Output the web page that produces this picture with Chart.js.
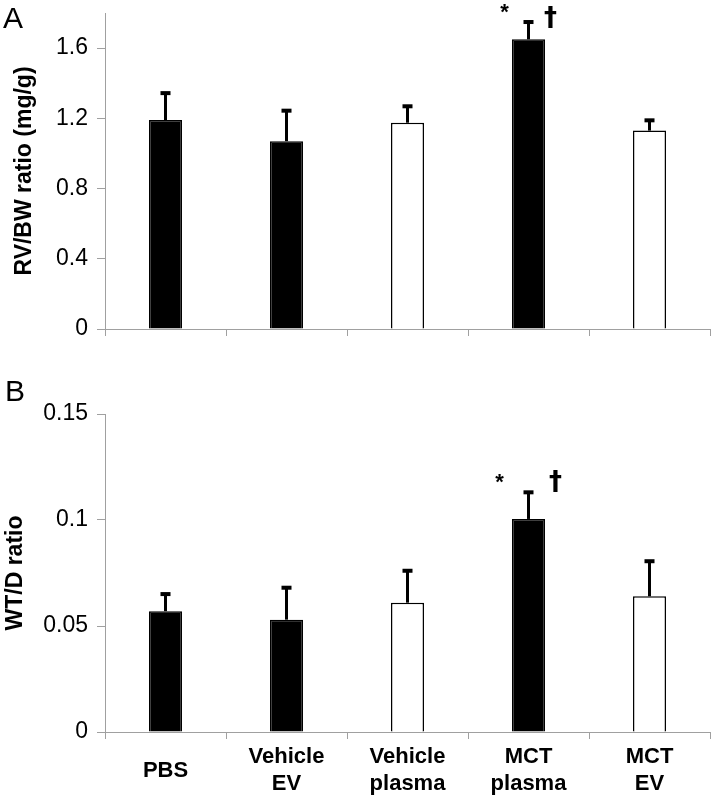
<!DOCTYPE html>
<html>
<head>
<meta charset="utf-8">
<script src="https://cdn.jsdelivr.net/npm/chart.js@4.4.1/dist/chart.umd.min.js"></script>
<style>
  body { margin: 0; background: #fff; }
  .panel { position: absolute; left: 0; width: 714px; }
  .letter { position: absolute; font: 30px 'Liberation Sans', Arial, sans-serif; line-height: 30px; color: #000; }
</style>
</head>
<body>
<div class="panel" style="top:0;height:350px"><canvas id="chartA"></canvas></div>
<div class="panel" style="top:350px;height:448px"><canvas id="chartB"></canvas></div>
<div class="letter" style="left:3px;top:3px">A</div>
<div class="letter" style="left:5px;top:376px">B</div>
<script>
const groups = [['PBS'], ['Vehicle', 'EV'], ['Vehicle', 'plasma'], ['MCT', 'plasma'], ['MCT', 'EV']];

// panel A: RV/BW ratio
const rvMean = [1.19, 1.07, 1.175, 1.65, 1.13];
const rvErr = [0.165, 0.185, 0.105, 0.11, 0.07];
const rvTicks = [0, 0.4, 0.8, 1.2, 1.6];

// panel B: WT/D ratio
const wtMean = [0.057, 0.053, 0.061, 0.1005, 0.064];
const wtErr = [0.009, 0.016, 0.016, 0.0135, 0.0175];
const wtTicks = [0, 0.05, 0.1, 0.15];

// which group gets the * and † marks
const markedGroup = 3;

const FONT = "'Liberation Sans', Arial, sans-serif";
const AXIS_GREY = '#a0a0a0';

// upper error bars drawn from the y scale
const errorBars = {
  id: 'errorBars',
  afterDatasetsDraw(chart, args, opts) {
    const { ctx } = chart;
    const y = chart.scales.y;
    const meta = chart.getDatasetMeta(0);
    const means = chart.data.datasets[0].data;
    ctx.save();
    ctx.fillStyle = '#000';
    ctx.strokeStyle = '#000';
    meta.data.forEach((bar, i) => {
      const top = y.getPixelForValue(means[i] + opts.errors[i]);
      ctx.lineWidth = 3;
      ctx.beginPath();
      ctx.moveTo(bar.x, bar.y);
      ctx.lineTo(bar.x, top + 2);
      ctx.stroke();
      ctx.fillRect(bar.x - 5, top, 10, 4);
      if (i === markedGroup) {
        ctx.textAlign = 'center';
        ctx.textBaseline = 'alphabetic';
        ctx.font = 'bold 22px ' + FONT;
        ctx.fillText('*', bar.x + opts.starDx, top - 1);
        ctx.font = "bold 26px 'DejaVu Sans', sans-serif";
        ctx.fillText('†', bar.x + opts.daggerDx, top + opts.daggerDy);
      }
    });
    ctx.restore();
  }
};

function makeChart(id, means, errs, ticks, max, title, titlePad, showLabels, padTop, xHeight, marks) {
  return new Chart(document.getElementById(id), {
    type: 'bar',
    data: {
      labels: groups,
      datasets: [{
        data: means,
        backgroundColor: ['#000', '#000', '#fff', '#000', '#fff'],
        borderColor: '#000',
        borderWidth: 1.5,
        categoryPercentage: 1,
        barPercentage: 0.273
      }]
    },
    options: {
      responsive: true,
      maintainAspectRatio: false,
      animation: false,
      events: [],
      layout: { padding: { top: padTop, right: 4, left: 0, bottom: 0 } },
      scales: {
        x: {
          grid: { offset: true, drawOnChartArea: false, color: AXIS_GREY, tickLength: 7 },
          border: { color: AXIS_GREY },
          ticks: {
            display: showLabels,
            color: '#000',
            maxRotation: 0,
            autoSkip: false,
            crossAlign: 'center',
            padding: 18,
            font: { family: FONT, size: 22, weight: 'bold', lineHeight: 1.23 }
          },
          afterFit(scale) { scale.height = xHeight; }
        },
        y: {
          min: 0,
          max: max,
          afterBuildTicks(scale) { scale.ticks = ticks.map(v => ({ value: v })); },
          grid: { drawOnChartArea: false, color: AXIS_GREY, tickLength: 8 },
          border: { color: AXIS_GREY },
          ticks: {
            color: '#000',
            padding: 9,
            callback: v => String(v),
            font: { family: FONT, size: 23 }
          },
          title: {
            display: true,
            text: title,
            color: '#000',
            padding: { top: titlePad, bottom: 0 },
            font: { family: FONT, size: 23, weight: 'bold' }
          },
          afterFit(scale) {
            scale.width = 105;
            scale.paddingTop = 0;
            scale.paddingBottom = 0;
          }
        }
      },
      plugins: {
        legend: { display: false },
        tooltip: { enabled: false },
        errorBars: Object.assign({ errors: errs }, marks)
      }
    },
    plugins: [errorBars]
  });
}

makeChart('chartA', rvMean, rvErr, rvTicks, 1.8, 'RV/BW ratio (mg/g)', 11, false, 13, 21,
  { starDx: -24, daggerDx: 22, daggerDy: 6 });
makeChart('chartB', wtMean, wtErr, wtTicks, 0.15, 'WT/D ratio', 2, true, 64, 66,
  { starDx: -29, daggerDx: 27, daggerDy: 0 });
</script>
</body>
</html>
